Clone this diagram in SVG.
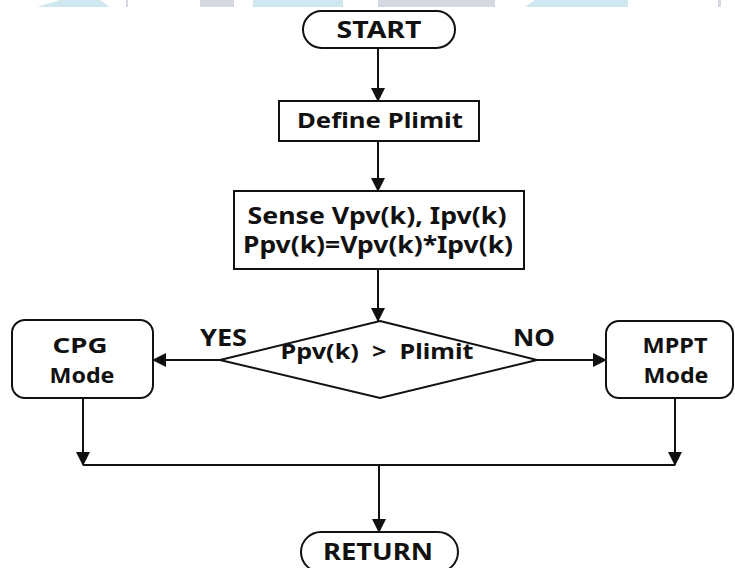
<svg xmlns="http://www.w3.org/2000/svg" width="735" height="568" viewBox="0 0 735 568">
<style>
.s{fill:#fff;stroke:#111;stroke-width:2}
.t{font-family:"Noto Sans","Open Sans",sans-serif;font-weight:bold;fill:#111;text-anchor:middle}
.c{fill:none;stroke:#111;stroke-width:2}
.wb{fill:#cfe8ef}
.wg{fill:#d6d8e1}
</style>
<defs>
<marker id="ah" markerWidth="14" markerHeight="14" refX="13" refY="7" orient="auto" markerUnits="userSpaceOnUse">
<path d="M0,0 L14,7 L0,14 Z" fill="#111"/>
</marker>
</defs>
<g id="watermark">
<polygon class="wb" points="37,7 60,0 100,0 110,7"/>
<rect class="wg" x="126" y="0" width="2" height="7"/>
<rect class="wg" x="200" y="0" width="34" height="7"/>
<rect class="wb" x="253" y="0" width="90" height="7"/>
<rect class="wg" x="378" y="0" width="117" height="7"/>
<polygon class="wb" points="525,7 535,0 628,0 628,7"/>
<rect class="wg" x="718" y="0" width="3" height="7"/>
</g>
<g id="connectors">
<line class="c" x1="378" y1="48" x2="378" y2="101" marker-end="url(#ah)"/>
<line class="c" x1="378" y1="141" x2="378" y2="191" marker-end="url(#ah)"/>
<line class="c" x1="378" y1="269" x2="378" y2="321" marker-end="url(#ah)"/>
<line class="c" x1="220" y1="360" x2="153" y2="360" marker-end="url(#ah)"/>
<line class="c" x1="537" y1="360" x2="606" y2="360" marker-end="url(#ah)"/>
<line class="c" x1="83" y1="398" x2="83" y2="465" marker-end="url(#ah)"/>
<line class="c" x1="675" y1="398" x2="675" y2="465" marker-end="url(#ah)"/>
<line class="c" x1="83" y1="465" x2="675" y2="465"/>
<line class="c" x1="379" y1="465" x2="379" y2="532" marker-end="url(#ah)"/>
<text class="t" x="223.5" y="346" font-size="23" textLength="47" lengthAdjust="spacingAndGlyphs">YES</text>
<text class="t" x="534" y="346" font-size="23" textLength="42" lengthAdjust="spacingAndGlyphs">NO</text>
</g>
<g id="start">
<rect class="s" x="303" y="11" width="152" height="37" rx="18.5"/>
<text class="t" x="379" y="38" font-size="23" textLength="85" lengthAdjust="spacingAndGlyphs">START</text>
</g>
<g id="define">
<rect class="s" x="279" y="101" width="200" height="40"/>
<text class="t" x="380" y="128" font-size="22" textLength="166" lengthAdjust="spacingAndGlyphs">Define Plimit</text>
</g>
<g id="sense">
<rect class="s" x="234" y="191" width="290" height="78"/>
<text class="t" x="377" y="224" font-size="23" textLength="259" lengthAdjust="spacingAndGlyphs">Sense Vpv(k), Ipv(k)</text>
<text class="t" x="378" y="253" font-size="23" textLength="270" lengthAdjust="spacingAndGlyphs">Ppv(k)=Vpv(k)*Ipv(k)</text>
</g>
<g id="decision">
<polygon class="s" points="380,321 537,360 380,398 220,360"/>
<text class="t" x="377" y="359" font-size="22" textLength="193" lengthAdjust="spacingAndGlyphs" style="white-space:pre">Ppv(k)  &gt;  Plimit</text>
</g>
<g id="cpg">
<rect class="s" x="12" y="320" width="141" height="78" rx="13"/>
<text class="t" x="80" y="353" font-size="21" textLength="55" lengthAdjust="spacingAndGlyphs">CPG</text>
<text class="t" x="82" y="383" font-size="21" textLength="65" lengthAdjust="spacingAndGlyphs">Mode</text>
</g>
<g id="mppt">
<rect class="s" x="606" y="321" width="127" height="77" rx="13"/>
<text class="t" x="675" y="353" font-size="21" textLength="65" lengthAdjust="spacingAndGlyphs">MPPT</text>
<text class="t" x="676" y="383" font-size="21" textLength="65" lengthAdjust="spacingAndGlyphs">Mode</text>
</g>
<g id="return">
<rect class="s" x="301" y="532" width="157" height="40" rx="20"/>
<text class="t" x="378" y="560" font-size="23" textLength="110" lengthAdjust="spacingAndGlyphs">RETURN</text>
</g>
</svg>
